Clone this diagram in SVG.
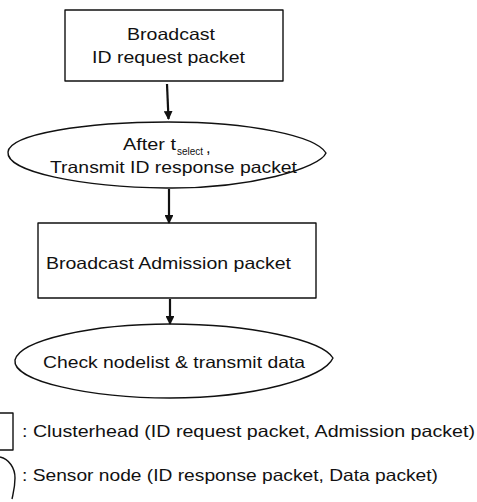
<svg xmlns="http://www.w3.org/2000/svg" width="477" height="502" viewBox="0 0 477 502">
  <style>
    .shape { fill: none; stroke: #111; stroke-width: 1.4; stroke-linejoin: round; }
    .lbl { font-family: "Liberation Sans", Arial, sans-serif; font-size: 16.5px; fill: #111; }
    .sub { font-family: "Liberation Sans", Arial, sans-serif; font-size: 10.5px; fill: #111; }
    .conn { stroke: #111; stroke-width: 2.2; fill: none; }
  </style>
  <defs>
    <marker id="arrow" viewBox="0 0 10 10" refX="9" refY="5" markerWidth="4" markerHeight="4" orient="auto" markerUnits="strokeWidth">
      <path d="M0,0 L10,5 L0,10 Z" fill="#111"/>
    </marker>
  </defs>

  <rect width="477" height="502" fill="#fff"/>

  <!-- Clusterhead: broadcast ID request -->
  <g id="node-broadcast-id">
    <rect class="shape" x="65" y="10" width="218" height="71"/>
    <text class="lbl" x="171" y="40" text-anchor="middle" textLength="88" lengthAdjust="spacingAndGlyphs">Broadcast</text>
    <text class="lbl" x="168.5" y="63" text-anchor="middle" textLength="153" lengthAdjust="spacingAndGlyphs">ID request packet</text>
  </g>

  <!-- Sensor node: transmit ID response -->
  <g id="node-transmit-id">
    <path class="shape" d="M8,152 C10,134 85,122 168,122 C250,122 316,136 326,153 C320,168 250,189 166,188 C82,187 6,172 8,152 Z"/>
    <text class="lbl" x="123" y="150" textLength="53" lengthAdjust="spacingAndGlyphs">After t</text>
    <text class="sub" x="177" y="155" textLength="26" lengthAdjust="spacingAndGlyphs">select</text>
    <text class="lbl" x="206" y="153">,</text>
    <text class="lbl" x="50" y="173" textLength="247" lengthAdjust="spacingAndGlyphs">Transmit ID response packet</text>
  </g>

  <!-- Clusterhead: broadcast admission -->
  <g id="node-broadcast-admission">
    <rect class="shape" x="38" y="223" width="278" height="75"/>
    <text class="lbl" x="46" y="269" textLength="245" lengthAdjust="spacingAndGlyphs">Broadcast Admission packet</text>
  </g>

  <!-- Sensor node: check nodelist -->
  <g id="node-check-nodelist">
    <path class="shape" d="M15,360 C20,340 92,324 170,324 C250,324 322,340 333,358 C324,378 255,398 170,398 C90,398 12,381 15,360 Z"/>
    <text class="lbl" x="43" y="368" textLength="262" lengthAdjust="spacingAndGlyphs">Check nodelist &amp; transmit data</text>
  </g>

  <!-- Connectors -->
  <g id="connectors">
    <line class="conn" x1="167" y1="84" x2="168.5" y2="119" marker-end="url(#arrow)"/>
    <line class="conn" x1="169" y1="189" x2="169" y2="223" marker-end="url(#arrow)"/>
    <line class="conn" x1="170" y1="299" x2="170" y2="324" marker-end="url(#arrow)"/>
  </g>

  <!-- Legend -->
  <g id="legend-clusterhead">
    <path class="shape" d="M0,413 L13,413 L13,450 L0,450"/>
    <text class="lbl" x="22" y="437" textLength="453" lengthAdjust="spacingAndGlyphs">: Clusterhead (ID request packet, Admission packet)</text>
  </g>
  <g id="legend-sensor">
    <path class="shape" d="M0,457 C9,459 15,468 15,478 C15,488 13,494 12,499"/>
    <text class="lbl" x="22" y="481" textLength="416" lengthAdjust="spacingAndGlyphs">: Sensor node (ID response packet, Data packet)</text>
  </g>
</svg>
